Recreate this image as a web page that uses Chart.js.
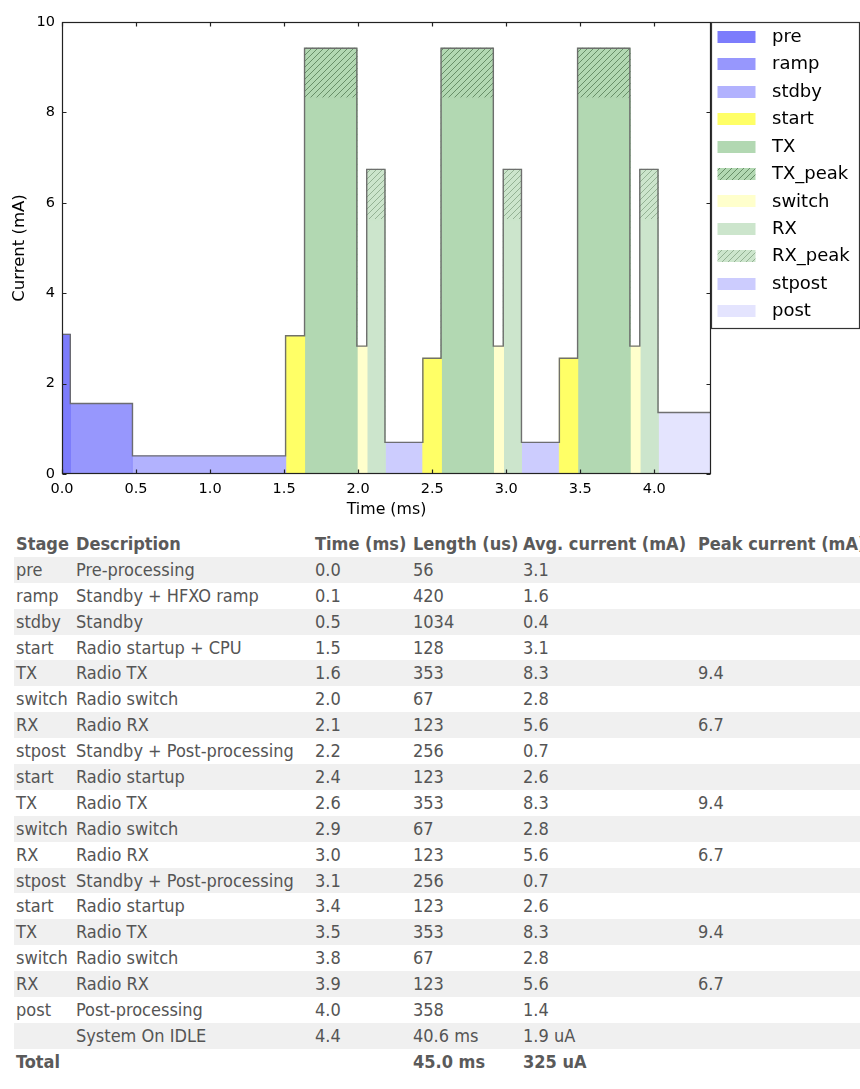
<!DOCTYPE html>
<html>
<head>
<meta charset="utf-8">
<title>Radio cycle current profile</title>
<script src="https://cdn.jsdelivr.net/npm/chart.js@4.4.1/dist/chart.umd.min.js"></script>
<style>
  html, body { margin: 0; padding: 0; background: #fff; width: 860px; overflow: hidden; }
  #plot { position: relative; width: 860px; height: 527px; }
  #plot canvas { display: block; }
  table#stages {
    margin: 4px 0 0 14px;
    border-collapse: collapse;
    table-layout: fixed;
    width: 862px;
    font-family: "DejaVu Sans Condensed", "DejaVu Sans", sans-serif;
    font-stretch: condensed;
    font-size: 18px;
    color: #555;
  }
  #stages th, #stages td {
    padding: 0 0 0 2px;
    height: 25.9px;
    line-height: 20px;
    text-align: left;
    vertical-align: middle;
    white-space: nowrap;
    overflow: hidden;
  }
  #stages th { font-weight: bold; color: #5a5a5a; }
  #stages tbody tr:nth-child(odd) { background: #f0f0f0; }
  #stages tr.total td { font-weight: bold; background: #fff; color: #5a5a5a; }
</style>
</head>
<body>
<div id="plot"><canvas id="chart" width="860" height="527"></canvas></div>
<table id="stages">
  <colgroup>
    <col style="width:60px"><col style="width:239px"><col style="width:98px">
    <col style="width:110px"><col style="width:175px"><col style="width:180px">
  </colgroup>
  <thead>
    <tr><th>Stage</th><th>Description</th><th>Time (ms)</th><th>Length (us)</th><th>Avg. current (mA)</th><th>Peak current (mA)</th></tr>
  </thead>
  <tbody></tbody>
</table>
<script>
// ---- stage data (one entry per stage of the radio cycle) ----
const stageKeys = ['pre', 'ramp', 'stdby', 'start', 'TX', 'switch', 'RX', 'stpost',
                   'start', 'TX', 'switch', 'RX', 'stpost',
                   'start', 'TX', 'switch', 'RX', 'post'];
const stageDescriptions = ['Pre-processing', 'Standby + HFXO ramp', 'Standby', 'Radio startup + CPU',
                           'Radio TX', 'Radio switch', 'Radio RX', 'Standby + Post-processing',
                           'Radio startup', 'Radio TX', 'Radio switch', 'Radio RX', 'Standby + Post-processing',
                           'Radio startup', 'Radio TX', 'Radio switch', 'Radio RX', 'Post-processing'];
const lengthsUs = [56, 420, 1034, 128, 353, 67, 123, 256, 123, 353, 67, 123, 256, 123, 353, 67, 123, 358];
const avgCurrentMa = [3.09, 1.56, 0.40, 3.06, 8.32, 2.83, 5.63, 0.70,
                      2.56, 8.32, 2.83, 5.63, 0.70,
                      2.56, 8.32, 2.83, 5.63, 1.36];
const peakCurrentMa = [null, null, null, null, 9.42, null, 6.74, null,
                       null, 9.42, null, 6.74, null,
                       null, 9.42, null, 6.74, null];

// idle tail and totals
const idleDescription = 'System On IDLE';
const idleLength = '40.6 ms';
const idleCurrent = '1.9 uA';
const totalLength = '45.0 ms';
const totalCurrent = '325 uA';

// legend entries, in legend order
const legendLabels = ['pre', 'ramp', 'stdby', 'start', 'TX', 'TX_peak', 'switch', 'RX', 'RX_peak', 'stpost', 'post'];

// axis settings
const xTickStep = 0.5;
const yMax = 10;
const yTickStep = 2;

// ---- colours ----
const stageColors = {
  pre:    'rgb(124,124,252)',
  ramp:   'rgb(151,151,253)',
  stdby:  'rgb(178,178,254)',
  start:  'rgb(255,255,102)',
  TX:     'rgb(178,216,178)',
  switch: 'rgb(255,255,204)',
  RX:     'rgb(204,229,204)',
  stpost: 'rgb(204,204,254)',
  post:   'rgb(228,228,254)'
};

function hatchPattern(bg, lineColor) {
  const p = 6;
  const c = document.createElement('canvas');
  c.width = p; c.height = p;
  const g = c.getContext('2d');
  g.fillStyle = bg;
  g.fillRect(0, 0, p, p);
  g.strokeStyle = lineColor;
  g.lineWidth = 1;
  g.beginPath();
  g.moveTo(0, p); g.lineTo(p, 0);
  g.moveTo(-1, 1); g.lineTo(1, -1);
  g.moveTo(p - 1, p + 1); g.lineTo(p + 1, p - 1);
  g.stroke();
  return g.createPattern(c, 'repeat');
}

function fillFor(label) {
  if (label === 'TX_peak') return hatchPattern(stageColors.TX, 'rgba(55,95,55,0.6)');
  if (label === 'RX_peak') return hatchPattern(stageColors.RX, 'rgba(80,115,80,0.45)');
  return stageColors[label];
}

// ---- geometry from the stage lengths ----
const xStart = [];
let acc = 0;
lengthsUs.forEach(l => { xStart.push(acc / 1000); acc += l; });
const xEnd = acc / 1000;

function rectsFor(label) {
  const isPeak = label.endsWith('_peak');
  const key = isPeak ? label.slice(0, -5) : label;
  const pts = [];
  stageKeys.forEach((k, i) => {
    if (k !== key) return;
    const top = isPeak ? peakCurrentMa[i] : avgCurrentMa[i];
    if (top == null) return;
    const x0 = xStart[i];
    const x1 = xStart[i] + lengthsUs[i] / 1000;
    pts.push({ x: x0, y: 0 }, { x: x0, y: top }, { x: x1, y: top }, { x: x1, y: 0 }, { x: x1, y: null });
  });
  return pts;
}

function outlinePoints() {
  const pts = [{ x: 0, y: 0 }];
  stageKeys.forEach((k, i) => {
    const top = peakCurrentMa[i] != null ? peakCurrentMa[i] : avgCurrentMa[i];
    const x0 = xStart[i];
    const x1 = xStart[i] + lengthsUs[i] / 1000;
    pts.push({ x: x0, y: top }, { x: x1, y: top });
  });
  pts.push({ x: xEnd, y: 0 });
  return pts;
}

const datasets = legendLabels.map(label => {
  const fillStyle = fillFor(label);
  return {
    label: label,
    data: rectsFor(label),
    backgroundColor: fillStyle,
    // a hairline edge in the fill colour closes the seams between neighbouring stages
    borderColor: fillStyle,
    borderWidth: 1,
    fill: 'origin',
    pointRadius: 0,
    spanGaps: false,
    order: label.endsWith('_peak') ? 2 : 1
  };
});
datasets.push({
  label: 'outline',
  data: outlinePoints(),
  borderColor: 'rgba(105,105,105,0.95)',
  borderWidth: 1.4,
  fill: false,
  pointRadius: 0,
  order: 0
});

// ---- plugins: boxed frame with inward ticks, boxed legend ----
const frameTicks = {
  id: 'frameTicks',
  afterDatasetsDraw(chart) {
    const { ctx, chartArea: a, scales } = chart;
    const L = Math.round(a.left) + 0.5, R = Math.round(a.right) - 0.5;
    const T = Math.round(a.top) + 0.5, B = Math.round(a.bottom) - 0.5;
    ctx.save();
    ctx.strokeStyle = '#222';
    ctx.lineWidth = 1.2;
    ctx.strokeRect(L, T, R - L, B - T);
    const len = 4;
    ctx.beginPath();
    scales.x.ticks.forEach(t => {
      const px = Math.round(scales.x.getPixelForValue(t.value)) + 0.5;
      ctx.moveTo(px, B); ctx.lineTo(px, B - len);
      ctx.moveTo(px, T); ctx.lineTo(px, T + len);
    });
    scales.y.ticks.forEach(t => {
      const py = Math.round(scales.y.getPixelForValue(t.value)) + 0.5;
      ctx.moveTo(L, py); ctx.lineTo(L + len, py);
      ctx.moveTo(R, py); ctx.lineTo(R - len, py);
    });
    ctx.stroke();
    ctx.restore();
  }
};

const boxLegend = {
  id: 'boxLegend',
  afterDraw(chart) {
    const { ctx, chartArea: a } = chart;
    const left = Math.round(a.right) + 0.5;
    const top = Math.round(a.top) + 0.5;
    const right = 859.5, bottom = 328.5;
    ctx.save();
    ctx.fillStyle = '#fff';
    ctx.fillRect(left, top, right - left, bottom - top);
    ctx.strokeStyle = '#333';
    ctx.lineWidth = 1.2;
    ctx.strokeRect(left, top, right - left, bottom - top);
    ctx.font = '18px "DejaVu Sans"';
    ctx.textBaseline = 'middle';
    const rowH = 27.43;
    chart.data.datasets.forEach(ds => {
      const j = legendLabels.indexOf(ds.label);
      if (j < 0) return;
      const cy = top + 14.3 + j * rowH;
      ctx.fillStyle = ds.backgroundColor;
      ctx.fillRect(left + 6, Math.round(cy - 6), 38, 12);
      ctx.fillStyle = '#000';
      ctx.fillText(ds.label, left + 60.5, cy + 0.5);
    });
    ctx.restore();
  }
};

const tickFont = { family: 'DejaVu Sans', size: 14.5 };

new Chart(document.getElementById('chart'), {
  type: 'line',
  data: { datasets },
  options: {
    responsive: false,
    animation: false,
    devicePixelRatio: 1,
    layout: { padding: { left: 0, right: 149, top: 22, bottom: 0 } },
    plugins: { legend: { display: false }, tooltip: { enabled: false } },
    elements: { line: { tension: 0 }, point: { radius: 0 } },
    scales: {
      x: {
        type: 'linear',
        min: 0,
        max: xEnd,
        grid: { display: false, drawTicks: false },
        border: { display: false },
        ticks: {
          stepSize: xTickStep,
          includeBounds: false,
          autoSkip: false,
          maxRotation: 0,
          padding: 7,
          color: '#000',
          font: tickFont,
          callback: v => Number(v).toFixed(1)
        },
        title: { display: true, text: 'Time (ms)', color: '#000', font: { family: 'DejaVu Sans', size: 15.8 }, padding: { top: 0, bottom: 8 } },
        afterFit(scale) { scale.height = 53; }
      },
      y: {
        min: 0,
        max: yMax,
        grid: { display: false, drawTicks: false },
        border: { display: false },
        ticks: {
          stepSize: yTickStep,
          padding: 7,
          color: '#000',
          font: tickFont,
          callback: v => String(v)
        },
        title: { display: true, text: 'Current (mA)', color: '#000', font: { family: 'DejaVu Sans', size: 16.5 }, padding: { top: 10, bottom: 0 } },
        afterFit(scale) { scale.width = 62; }
      }
    }
  },
  plugins: [frameTicks, boxLegend]
});

// ---- stage table, built from the same arrays ----
const tbody = document.querySelector('#stages tbody');
function addRow(cells, cls) {
  const tr = document.createElement('tr');
  if (cls) tr.className = cls;
  cells.forEach(text => {
    const td = document.createElement('td');
    td.textContent = text;
    tr.appendChild(td);
  });
  tbody.appendChild(tr);
}
stageKeys.forEach((k, i) => {
  addRow([
    k,
    stageDescriptions[i],
    xStart[i].toFixed(1),
    String(lengthsUs[i]),
    avgCurrentMa[i].toFixed(1),
    peakCurrentMa[i] != null ? peakCurrentMa[i].toFixed(1) : ''
  ]);
});
addRow(['', idleDescription, xEnd.toFixed(1), idleLength, idleCurrent, '']);
addRow(['Total', '', '', totalLength, totalCurrent, ''], 'total');
</script>
</body>
</html>
